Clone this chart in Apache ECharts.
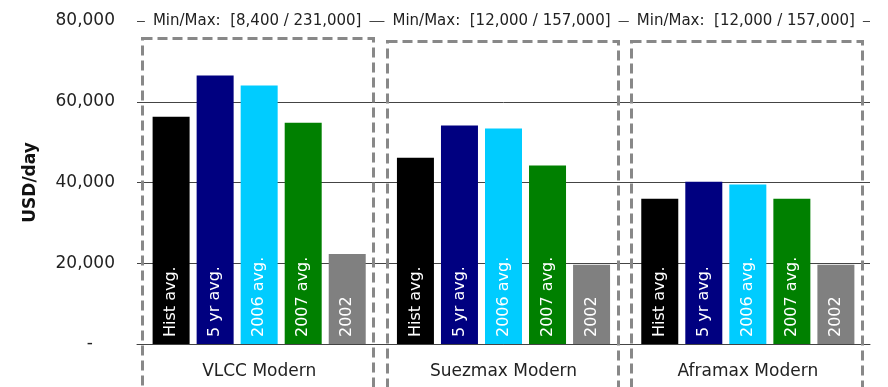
<!DOCTYPE html>
<html>
<head>
<meta charset="utf-8">
<script src="https://cdn.jsdelivr.net/npm/echarts@6/dist/echarts.min.js"></script>
<style>
  html, body { margin: 0; padding: 0; background: #fff; }
  #chart { width: 888px; height: 387px; }
</style>
</head>
<body>
<div id="chart"></div>
<script>
// categories (vessel types) and series names
const categories = ['VLCC Modern', 'Suezmax Modern', 'Aframax Modern'];
const seriesNames = ['Hist avg.', '5 yr avg.', '2006 avg.', '2007 avg.', '2002'];

// USD/day per series, one value per category
const histAvg = [56300, 46100, 36000];
const fiveYrAvg = [66500, 54100, 40200];
const avg2006 = [64000, 53400, 39500];
const avg2007 = [54800, 44200, 36000];
const year2002 = [22300, 19600, 19600];

const minMaxLabels = ['Min/Max:  [8,400 / 231,000]', 'Min/Max:  [12,000 / 157,000]', 'Min/Max:  [12,000 / 157,000]'];
const yTicks = [0, 20000, 40000, 60000, 80000];

const colors = ['#000000', '#000080', '#00ccff', '#008000', '#808080'];
const values = [histAvg, fiveYrAvg, avg2006, avg2007, year2002];

const font = 'DejaVu Sans';
const chart = echarts.init(document.getElementById('chart'));

const series = seriesNames.map((name, i) => {
    return {
        name: name,
        type: 'bar',
        data: values[i],
        barWidth: 37,
        barGap: '19%',
        itemStyle: { color: colors[i] },
        z: 3,
        label: {
            show: true,
            formatter: name,
            position: 'insideBottom',
            rotate: 90,
            align: 'left',
            verticalAlign: 'middle',
            distance: 7,
            color: '#fff',
            fontFamily: font,
            fontSize: 16
        }
    }
});

chart.setOption({
    animation: false,
    grid: { left: 137, right: 18, top: 21, bottom: 43 },
    xAxis: {
        type: 'category',
        data: categories,
        axisTick: { show: false },
        axisLine: { lineStyle: { color: '#444', width: 1 } },
        axisLabel: { color: '#222', fontFamily: font, fontSize: 17, margin: 19 }
    },
    yAxis: {
        type: 'value',
        min: yTicks[0],
        max: yTicks[yTicks.length - 1],
        interval: 20000,
        name: 'USD/day',
        nameLocation: 'middle',
        nameRotate: 90,
        nameGap: 98,
        nameTextStyle: { color: '#111', fontFamily: font, fontSize: 17, fontWeight: 'bold', padding: [0, 0, 0, 0] },
        axisLine: { show: false },
        axisTick: { show: false },
        splitLine: { lineStyle: { color: '#444', width: 1 } },
        axisLabel: {
            color: '#222',
            fontFamily: font,
            fontSize: 17,
            margin: 22,
            formatter: v => v === 0 ? '{z|-}' : v.toLocaleString('en-US'),
            rich: { z: { fontFamily: font, fontSize: 17, color: '#222', padding: [0, 22, 0, 0] } }
        }
    },
    series: series
});

// dashed boxes and min/max notes, placed from the category positions
const y80 = chart.convertToPixel({ yAxisIndex: 0 }, yTicks[yTicks.length - 1]);
const boxTops = [38, 41, 41];
const graphics = [];
categories.forEach((c, i) => {
    const cx = chart.convertToPixel({ xAxisIndex: 0 }, c);
    const left = Math.round(cx - 117) + 0.5;
    graphics.push({
        type: 'rect',
        shape: { x: left, y: boxTops[i] + 0.5, width: 231, height: 400 },
        style: { fill: 'none', stroke: '#888', lineWidth: 3, lineDash: [10, 5] },
        z: 10
    });
    graphics.push({
        type: 'text',
        x: cx - 2,
        y: y80,
        style: {
            text: minMaxLabels[i],
            fill: '#222',
            font: '15px "DejaVu Sans"',
            align: 'center',
            verticalAlign: 'middle',
            backgroundColor: '#fff',
            padding: [3, 8]
        },
        z: 11
    });
});
chart.setOption({ graphic: graphics });
</script>
</body>
</html>
